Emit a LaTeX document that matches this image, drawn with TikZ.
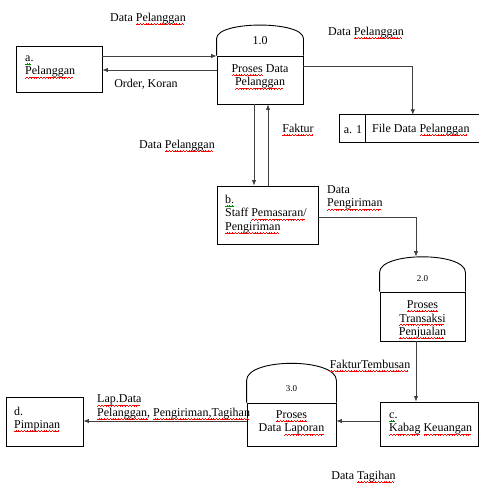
\documentclass[tikz,border=0pt]{standalone}
\usepackage{fontspec}
\setmainfont{Liberation Serif}
\usetikzlibrary{arrows.meta,calc}

% wavy proofing underline built from tiny rules, repeated by leaders
\newcommand\wavemark{\hbox{%
  \rule[-3.6pt]{0.7pt}{0.8pt}\rule[-3.1pt]{0.7pt}{0.8pt}%
  \rule[-2.6pt]{0.7pt}{0.8pt}\rule[-3.1pt]{0.7pt}{0.8pt}}}
\newcommand\wavy[2]{\mbox{\setbox0\hbox{#2}%
  \rlap{\hbox to \wd0{{\color{#1}\leaders\wavemark\hfill}}}\box0}}
\newcommand\sq[1]{\wavy{red}{#1}}
\newcommand\gq[1]{\wavy{green!55!black}{#1}}

\begin{document}
\begin{tikzpicture}[x=1pt, y=-1pt,
  font=\fontsize{12}{13.5}\selectfont,
  every node/.style={inner sep=0pt},
  box/.style={draw=black, line width=0.9pt},
  edge/.style={draw=black, line width=0.9pt},
  lbl/.style={align=left},
  ctr/.style={align=center},
  small/.style={font=\fontsize{9}{10}\selectfont},
  flow/.style={draw=black!75, line width=0.8pt, -{Latex[length=5.5pt,width=4.5pt]}}]

\useasboundingbox (0,0) rectangle (479,485);

% external entity a: Pelanggan
\node[box, minimum width=86pt, minimum height=46pt] (a) at (59,69) {};
\node[lbl, anchor=west] (atxt) at (25,67) {\gq{a.}\\\sq{Pelanggan}};

% process 1.0
\node[box, minimum width=86pt, minimum height=48pt] (p1) at (260,80) {};
\draw[edge] (p1.north west) -- ++(0,-17)
  .. controls +(0,-18) and +(0,-18) .. ($(p1.north east)+(0,-17)$)
  -- (p1.north east);
\node (n1) at (260,41) {1.0};
\node[ctr] (t1) at (260,77) {\sq{Proses} Data\\\sq{Pelanggan}};

% data store a.1
\node[minimum width=139pt, minimum height=27pt] (fd) at (409.5,128.5) {};
\draw[edge] (fd.north east) -- (fd.north west) -- (fd.south west) -- (fd.south east);
\draw[edge] ($(fd.north west)+(26,0)$) -- ($(fd.south west)+(26,0)$);
\node (fdid) at (353,130) {a. 1};
\node[anchor=west] (fdname) at (372,130) {File Data \sq{Pelanggan}};

% external entity b: Staff Pemasaran/Pengiriman
\node[box, minimum width=101pt, minimum height=58pt] (b) at (267.5,215) {};
\node[lbl, anchor=west] (btxt) at (225,214.5) {\gq{b.}\\Staff \sq{Pemasaran/}\\\sq{Pengiriman}};

% process 2.0
\node[box, minimum width=85pt, minimum height=49pt] (p2) at (422.5,316.5) {};
\draw[edge] (p2.north west) -- ++(0,-19)
  .. controls +(0,-21) and +(0,-21) .. ($(p2.north east)+(0,-19)$)
  -- (p2.north east);
\node[small] (n2) at (422.5,279) {2.0};
\node[ctr] (t2) at (422.5,320) {\sq{Proses}\\\sq{Transaksi}\\\sq{Penjualan}};

% external entity c: Kabag Keuangan
\node[box, minimum width=98pt, minimum height=44pt] (c) at (429,424) {};
\node[lbl, anchor=west] (ctxt) at (389,424) {\gq{c.}\\\sq{Kabag} \sq{Keuangan}};

% process 3.0
\node[box, minimum width=89pt, minimum height=43pt] (p3) at (291.5,424.5) {};
\draw[edge] (p3.north west) -- ++(0,-22)
  .. controls +(0,-23) and +(0,-23) .. ($(p3.north east)+(0,-22)$)
  -- (p3.north east);
\node[small] (n3) at (291.5,389) {3.0};
\node[ctr] (t3) at (291.5,423) {\sq{Proses}\\Data \sq{Laporan}};

% external entity d: Pimpinan
\node[box, minimum width=77pt, minimum height=49pt] (d) at (44.5,422) {};
\node[lbl, anchor=west] (dtxt) at (14,419.5) {d.\\\sq{Pimpinan}};

% flows
\coordinate (ai) at ($(a.east)+(0,-13)$);
\draw[flow] (ai) -- (ai -| p1.west);
\coordinate (po) at ($(p1.west)+(0,-10)$);
\draw[flow] (po) -- (po -| a.east);

\coordinate (p1r) at ($(p1.east)+(0,-14)$);
\coordinate (fdin) at ($(fd.north west)+(73,0)$);
\draw[flow] (p1r) -| (fdin);

\coordinate (dn) at ($(p1.south)+(-6,0)$);
\draw[flow] (dn) -- (dn |- b.north);
\coordinate (up) at ($(p1.south)+(8,0)$);
\draw[flow] (up |- b.north) -- (up);

\coordinate (bo) at ($(b.east)+(0,2)$);
\coordinate (p2in) at ($(p2.north)+(-6.5,-35)$);
\draw[flow] (bo) -| (p2in);

\coordinate (p2o) at ($(p2.south)+(-6.5,0)$);
\draw[flow] (p2o) -- (p2o |- c.north);

\coordinate (co) at ($(c.west)+(0,-3)$);
\draw[flow] (co) -- (co -| p3.east);

\coordinate (p3o) at ($(p3.west)+(0,-3.5)$);
\draw[flow] (p3o) -- (p3o -| d.east);

% flow labels
\node (l1) at (148,19) {Data \sq{Pelanggan}};
\node (l2) at (146,84) {Order, Koran};
\node (l3) at (366,33) {Data \sq{Pelanggan}};
\node (l4) at (298,130) {\sq{Faktur}};
\node (l5) at (177,146) {Data \sq{Pelanggan}};
\node[lbl, anchor=west] (l6) at (327,198) {Data\\\sq{Pengiriman}};
\node (l7) at (370,366) {\sq{FakturTembusan}};
\node[lbl, anchor=west] (l8) at (97,407.5) {\sq{Lap.Data}\\\sq{Pelanggan,} \sq{Pengiriman,Tagihan}};
\node (l9) at (363.5,477) {Data \sq{Tagihan}};

\end{tikzpicture}
\end{document}
